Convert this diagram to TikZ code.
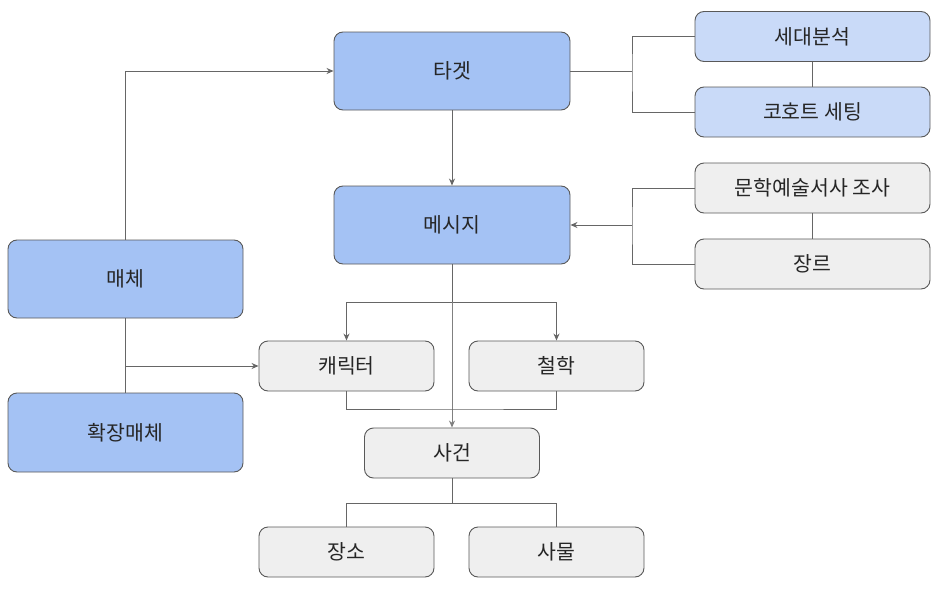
\documentclass[tikz,border=0pt]{standalone}
\usepackage{fontspec}
\setmainfont{Noto Sans CJK KR}
\usetikzlibrary{arrows.meta}
\definecolor{boxblue}{HTML}{A4C2F4}
\definecolor{boxlight}{HTML}{C9DAF8}
\definecolor{boxgray}{HTML}{EFEFEF}
\definecolor{boxline}{HTML}{595959}
\definecolor{wire}{HTML}{666666}
\begin{document}
\begin{tikzpicture}[x=1pt,y=-1pt,
    box/.style={draw=boxline,line width=0.9pt,rounded corners=9pt,inner sep=0pt,
      font=\fontsize{20.5}{24}\selectfont,text=black!85},
    bigbox/.style={box,fill=boxblue,minimum width=236pt,minimum height=78pt},
    sidebox/.style={box,minimum width=235pt,minimum height=50pt},
    smallbox/.style={box,fill=boxgray,minimum width=175pt,minimum height=50pt},
    wires/.style={draw=wire,line width=1pt},
    >={Stealth[length=7pt,width=6pt]}]
      \useasboundingbox (0,0) rectangle (946,589);
      \draw
        (452,71) node[bigbox] (target){타겟}
        (452,225) node[bigbox] (msg){메시지}
        (125.5,279) node[bigbox,minimum width=235pt] (media){매체}
        (125.5,432.5) node[bigbox,minimum width=235pt,minimum height=79pt] (extmedia){확장매체}
        (812.5,36.5) node[sidebox,fill=boxlight] (gen){세대분석}
        (812.5,112) node[sidebox,fill=boxlight] (cohort){코호트 세팅}
        (812.5,188) node[sidebox,fill=boxgray] (lit){문학예술서사 조사}
        (812.5,264) node[sidebox,fill=boxgray] (genre){장르}
        (346.5,366) node[smallbox] (char){캐릭터}
        (556.5,366) node[smallbox] (phil){철학}
        (452,453) node[smallbox] (event){사건}
        (346.5,552) node[smallbox] (place){장소}
        (556.5,552) node[smallbox] (thing){사물};
      \coordinate (tb) at (632,71);
      \coordinate (lb) at (632,225);
      \coordinate (ms) at (452,302);
      \coordinate (cp) at (452,409);
      \coordinate (es) at (452,503);
      \begin{scope}[wires]
        \draw (target) -- (tb);
        \draw (gen.west) -| (tb) |- (cohort.west);
        \draw (gen) -- (cohort);
        \draw[->] (target) -- (msg);
        \draw (lit.west) -| (lb) |- (genre.west);
        \draw (lit) -- (genre);
        \draw[->] (lb) -- (msg.east);
        \draw[->] (media.north) |- (target.west);
        \draw[->] (media.south) |- (char.west);
        \draw (media) -- (extmedia);
        \draw (msg.south) -- (ms);
        \draw[->] (ms) -| (char.north);
        \draw[->] (ms) -| (phil.north);
        \draw[->,draw=gray] (ms) -- (event.north);
        \draw (char.south) |- (cp) -| (phil.south);
        \draw (event.south) -- (es);
        \draw (es) -| (place.north);
        \draw (es) -| (thing.north);
      \end{scope}
    \end{tikzpicture}
\end{document}
